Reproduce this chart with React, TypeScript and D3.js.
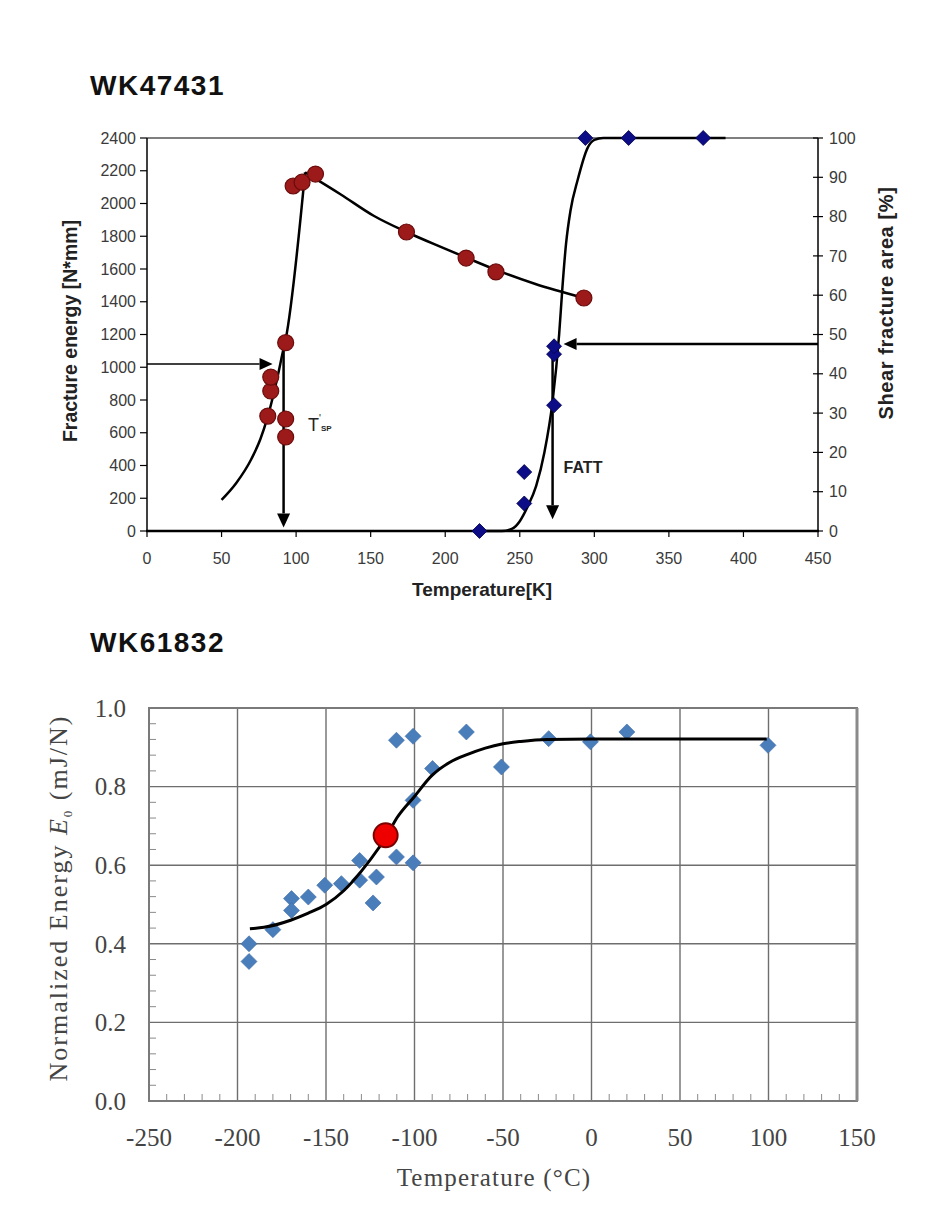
import React from "react";
import * as d3 from "d3";

const W = 945;
const H = 1206;

// ---------- Chart 1 (WK47431) ----------
const title1 = "WK47431";
const energyTemps = [81, 83, 83, 93, 93, 93, 98, 104, 113, 174, 214, 234, 293];
const energyValues = [702, 855, 940, 574, 684, 1150, 2107, 2130, 2180, 1826, 1667, 1582, 1423];
const shearTemps = [223, 253, 253, 273, 273, 273, 294, 323, 373];
const shearValues = [0, 15, 7, 32, 45, 47, 100, 100, 100];
const energyRiseCurveT = [50, 60, 70, 76, 81, 85, 88, 91, 93, 106];
const energyRiseCurveE = [190, 295, 440, 560, 700, 840, 960, 1090, 1170, 2190];
const energyFallCurveT = [106, 130, 152, 174, 197, 214, 234, 260, 293];
const energyFallCurveE = [2190, 2055, 1925, 1826, 1735, 1670, 1595, 1510, 1423];
const shearCurveT = [223, 238, 245, 250, 255, 261, 266.5, 272, 276.4, 278.6, 281, 284, 288.8, 295.5, 300, 306, 388];
const shearCurveS = [0, 0, 0.6, 2.5, 6, 11.5, 20, 33, 50, 62, 73, 81.5, 89.3, 97.5, 99.5, 100, 100];
const xTicks1 = [0, 50, 100, 150, 200, 250, 300, 350, 400, 450];
const yTicksE = [0, 200, 400, 600, 800, 1000, 1200, 1400, 1600, 1800, 2000, 2200, 2400];
const yTicksS = [0, 10, 20, 30, 40, 50, 60, 70, 80, 90, 100];
const tspTemp = 91.6;
const tspEnergy = 1020;
const fattTemp = 272;
const fattShear = 47.6;

// ---------- Chart 2 (WK61832) ----------
const title2 = "WK61832";
const normTemps = [-193.5, -193.5, -180, -169.5, -169.5, -160, -150.7, -141.3, -131, -131, -123.4, -121.5, -110.2, -110.2, -100.8, -100.8, -100.8, -89.8, -70.7, -50.9, -24.2, -0.6, 20, 99.7];
const normValues = [0.400, 0.355, 0.436, 0.515, 0.485, 0.519, 0.549, 0.553, 0.612, 0.562, 0.504, 0.570, 0.621, 0.918, 0.606, 0.765, 0.928, 0.846, 0.939, 0.850, 0.922, 0.914, 0.939, 0.905];
const markTemp = [-116.3];
const markValue = [0.676];
const normCurveT = [-193, -185, -170, -160, -150, -140, -130, -120, -116, -110, -100, -90, -80, -70, -60, -50, -40, -25, 0, 50, 99];
const normCurveE = [0.438, 0.442, 0.46, 0.478, 0.5, 0.535, 0.585, 0.645, 0.672, 0.72, 0.775, 0.829, 0.862, 0.882, 0.898, 0.909, 0.915, 0.92, 0.921, 0.921, 0.921];
const xTicks2 = [-250, -200, -150, -100, -50, 0, 50, 100, 150];
const yTicks2 = [0, 0.2, 0.4, 0.6, 0.8, 1.0];

const sans = "'Liberation Sans', Arial, sans-serif";
const serif = "'Liberation Serif', 'Times New Roman', serif";

function Arrow({ x1, y1, x2, y2, head = 12, half = 6, width = 2 }: any) {
  const dx = x2 - x1;
  const dy = y2 - y1;
  const len = Math.sqrt(dx * dx + dy * dy);
  const ux = dx / len;
  const uy = dy / len;
  const bx = x2 - ux * head;
  const by = y2 - uy * head;
  const px = -uy * half;
  const py = ux * half;
  return (
    <g>
      <line x1={x1} y1={y1} x2={bx} y2={by} stroke="#000" strokeWidth={width} />
      <polygon points={`${x2},${y2} ${bx + px},${by + py} ${bx - px},${by - py}`} fill="#000" />
    </g>
  );
}

export default function App() {
  // chart 1 scales
  const x1 = d3.scaleLinear().domain([0, 450]).range([147, 818]);
  const yE = d3.scaleLinear().domain([0, 2400]).range([531, 138]);
  const yS = d3.scaleLinear().domain([0, 100]).range([531, 138]);

  const mkLine = (xs: number[], ys: number[], sx: any, sy: any) =>
    d3
      .line<number>()
      .x((_, i) => sx(xs[i]))
      .y((_, i) => sy(ys[i]))
      .curve(d3.curveMonotoneX)(xs) as string;

  const riseE = mkLine(energyRiseCurveT, energyRiseCurveE, x1, yE);
  const fallE = mkLine(energyFallCurveT, energyFallCurveE, x1, yE);
  const shearPath = mkLine(shearCurveT, shearCurveS, x1, yS);

  // chart 2 scales
  const x2 = d3.scaleLinear().domain([-250, 150]).range([149, 857]);
  const y2 = d3.scaleLinear().domain([0, 1]).range([1101, 708]);
  const normPath = mkLine(normCurveT, normCurveE, x2, y2);

  const sq1 = d3.symbol(d3.symbolSquare, 112)() as string;
  const sq2 = d3.symbol(d3.symbolSquare, 128)() as string;

  const minorY = d3.range(0, 1.0001, 0.04).filter((v) => Math.abs(Math.round(v * 5) - v * 5) > 0.01);
  const minorX = d3.range(-250, 150.001, 10).filter((v) => v % 50 !== 0);

  return (
    <svg width={W} height={H} style={{ position: "absolute", left: 0, top: 0, background: "#fff" }}>
      <rect x={0} y={0} width={W} height={H} fill="#fff" />

      {/* ===== Chart 1 ===== */}
      <text x={90} y={95} fontFamily={sans} fontWeight="bold" fontSize={28} letterSpacing={1.5} fill="#111">
        {title1}
      </text>

      {/* frame */}
      <line x1={x1(0)} y1={yE(2400)} x2={x1(450)} y2={yE(2400)} stroke="#000" strokeWidth={1.2} />
      <line x1={x1(0)} y1={yE(0)} x2={x1(0)} y2={yE(2400)} stroke="#000" strokeWidth={1.5} />
      <line x1={x1(450)} y1={yS(0)} x2={x1(450)} y2={yS(100)} stroke="#000" strokeWidth={1.5} />
      <line x1={x1(0) - 1} y1={yE(0)} x2={x1(450) + 1} y2={yE(0)} stroke="#000" strokeWidth={2.5} />

      {yTicksE.map((t) => (
        <g key={"ye" + t}>
          <line x1={x1(0) - 7} x2={x1(0)} y1={yE(t)} y2={yE(t)} stroke="#000" strokeWidth={1.2} />
          <text x={x1(0) - 11} y={yE(t)} dy="0.35em" textAnchor="end" fontFamily={sans} fontSize={16} fill="#3a3a3a">
            {t}
          </text>
        </g>
      ))}
      {yTicksS.map((t) => (
        <g key={"ys" + t}>
          <line x1={x1(450) - 5} x2={x1(450) + 5} y1={yS(t)} y2={yS(t)} stroke="#000" strokeWidth={1.2} />
          <text x={x1(450) + 11} y={yS(t)} dy="0.35em" textAnchor="start" fontFamily={sans} fontSize={16} fill="#3a3a3a">
            {t}
          </text>
        </g>
      ))}
      {xTicks1.map((t) => (
        <g key={"x1" + t}>
          <line x1={x1(t)} x2={x1(t)} y1={yE(0)} y2={yE(0) + 6} stroke="#000" strokeWidth={1.2} />
          <text x={x1(t)} y={558} dy="0.35em" textAnchor="middle" fontFamily={sans} fontSize={16} fill="#3a3a3a">
            {t}
          </text>
        </g>
      ))}

      <text x={482} y={596} textAnchor="middle" fontFamily={sans} fontWeight="bold" fontSize={19} fill="#222">
        Temperature[K]
      </text>
      <text
        transform={`translate(77,331) rotate(-90)`}
        textAnchor="middle"
        fontFamily={sans}
        fontWeight="bold"
        fontSize={19.5}
        fill="#222"
      >
        Fracture energy [N*mm]
      </text>
      <text
        transform={`translate(893,303) rotate(-90)`}
        textAnchor="middle"
        fontFamily={sans}
        fontWeight="bold"
        fontSize={20}
        letterSpacing={0.6}
        fill="#222"
      >
        Shear fracture area  [%]
      </text>

      {/* curves */}
      <path d={riseE} fill="none" stroke="#000" strokeWidth={2.5} />
      <path d={fallE} fill="none" stroke="#000" strokeWidth={2.5} />
      <path d={shearPath} fill="none" stroke="#000" strokeWidth={2.5} />

      {/* arrows */}
      <Arrow x1={x1(0)} y1={yE(tspEnergy)} x2={x1(tspTemp) - 11} y2={yE(tspEnergy)} head={13} half={6} width={1.5} />
      <Arrow x1={x1(tspTemp)} y1={yE(1150)} x2={x1(tspTemp)} y2={yE(22)} head={14} half={6.5} width={2.5} />
      <Arrow x1={x1(450)} y1={yS(fattShear)} x2={x1(fattTemp) + 11} y2={yS(fattShear)} head={13} half={6} width={2.5} />
      <Arrow x1={x1(fattTemp)} y1={yS(fattShear)} x2={x1(fattTemp)} y2={yS(3)} head={14} half={6.5} width={2.5} />

      {/* markers */}
      {energyTemps.map((t, i) => (
        <circle key={"ec" + i} cx={x1(t)} cy={yE(energyValues[i])} r={8} fill="#9c1a1a" stroke="#6b0c0c" strokeWidth={1.2} />
      ))}
      {shearTemps.map((t, i) => (
        <path
          key={"sd" + i}
          d={sq1}
          transform={`translate(${x1(t)},${yS(shearValues[i])}) rotate(45)`}
          fill="#0c0c86"
          stroke="#05054f"
          strokeWidth={0.8}
        />
      ))}

      {/* labels */}
      <text x={x1(108)} y={yE(610)} fontFamily={sans} fontSize={18} fill="#222">
        T
        <tspan fontSize={10} dy={-9}>'</tspan>
        <tspan fontSize={8} fontWeight="bold" dy={9}>SP</tspan>
      </text>
      <text x={x1(279.4)} y={yS(14.8)} fontFamily={sans} fontWeight="bold" fontSize={16} fill="#222">
        FATT
      </text>

      {/* ===== Chart 2 ===== */}
      <text x={90} y={652} fontFamily={sans} fontWeight="bold" fontSize={28} letterSpacing={1.5} fill="#111">
        {title2}
      </text>

      {xTicks2
        .filter((t) => t > -250 && t < 150)
        .map((t) => (
          <line key={"gx" + t} x1={x2(t)} x2={x2(t)} y1={y2(1)} y2={y2(0)} stroke="#6e6e6e" strokeWidth={1.4} />
        ))}
      {yTicks2
        .filter((t) => t > 0 && t < 1)
        .map((t) => (
          <line key={"gy" + t} x1={x2(-250)} x2={x2(150)} y1={y2(t)} y2={y2(t)} stroke="#6e6e6e" strokeWidth={1.4} />
        ))}
      {minorY.map((t) => (
        <line key={"my" + t} x1={x2(-250)} x2={x2(-250) + 7} y1={y2(t)} y2={y2(t)} stroke="#8a8a8a" strokeWidth={1} />
      ))}
      {minorX.map((t) => (
        <line key={"mx" + t} x1={x2(t)} x2={x2(t)} y1={y2(0)} y2={y2(0) - 7} stroke="#8a8a8a" strokeWidth={1} />
      ))}
      <rect
        x={x2(-250)}
        y={y2(1)}
        width={x2(150) - x2(-250)}
        height={y2(0) - y2(1)}
        fill="none"
        stroke="#7a7a7a"
        strokeWidth={2}
      />
      <line x1={x2(150)} x2={x2(150)} y1={y2(1)} y2={y2(0)} stroke="#8a8a8a" strokeWidth={3} />

      {yTicks2.map((t) => (
        <text key={"yl" + t} x={126} y={y2(t)} dy="0.35em" textAnchor="end" fontFamily={serif} fontSize={25} fill="#444">
          {d3.format(".1f")(t)}
        </text>
      ))}
      {xTicks2.map((t) => (
        <text key={"xl" + t} x={x2(t)} y={1137} dy="0.35em" textAnchor="middle" fontFamily={serif} fontSize={25} fill="#444">
          {t}
        </text>
      ))}
      <text x={494} y={1186} textAnchor="middle" fontFamily={serif} fontSize={25} letterSpacing={1.2} fill="#444">
        Temperature (°C)
      </text>
      <text
        transform={`translate(67,898) rotate(-90)`}
        textAnchor="middle"
        fontFamily={serif}
        fontSize={26}
        letterSpacing={2}
        fill="#444"
      >
        Normalized Energy <tspan fontStyle="italic">E</tspan>
        <tspan fontSize={13} dy={5}>0</tspan>
        <tspan dy={-5}> (mJ/N)</tspan>
      </text>

      {normTemps.map((t, i) => (
        <path
          key={"nd" + i}
          d={sq2}
          transform={`translate(${x2(t)},${y2(normValues[i])}) rotate(45)`}
          fill="#4a7ebb"
          stroke="#3f6ea8"
          strokeWidth={0.6}
        />
      ))}
      <path d={normPath} fill="none" stroke="#000" strokeWidth={3} />
      {markTemp.map((t, i) => (
        <circle key={"mk" + i} cx={x2(t)} cy={y2(markValue[i])} r={12} fill="#ee0000" stroke="#7a0000" strokeWidth={2} />
      ))}
    </svg>
  );
}
